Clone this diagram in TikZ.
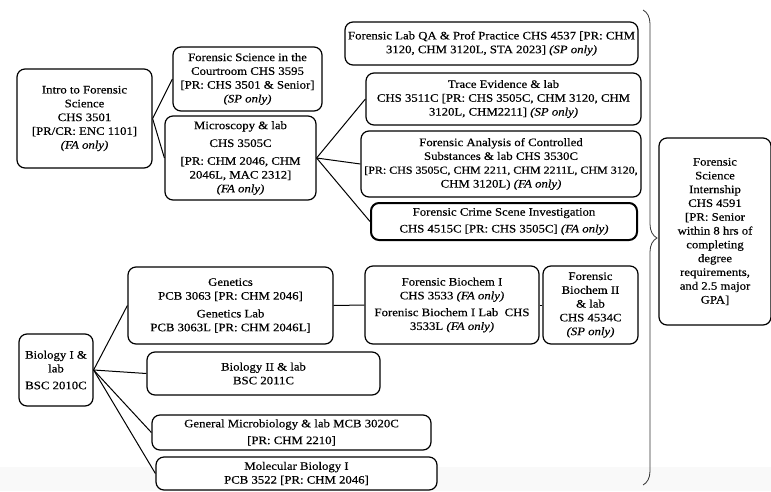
\documentclass[tikz,border=0pt]{standalone}
\usepackage{fontspec}
\setmainfont{Liberation Serif}[FakeStretch=1.12, FakeBold=0.4]
\usetikzlibrary{decorations.pathreplacing}
\tikzset{
  box/.style={draw=black, fill=white, rounded corners=8pt, line width=1.2pt, align=center,
    inner sep=1pt, font=\fontsize{11.4}{13.8}\selectfont},
  conn/.style={draw=black, line width=1pt},
}
\begin{document}
\begin{tikzpicture}[x=1pt,y=-1pt]
\useasboundingbox (0,0) rectangle (771,491);
\fill[gray!5] (0,467) rectangle (771,491);

\node[box, minimum width=135, minimum height=99] (intro) at (84.5,118.5)
  {Intro to Forensic\\Science\\CHS 3501\\{[PR/CR: ENC 1101]}\\\textit{(FA only)}};
\node[box, minimum width=149, minimum height=64] (court) at (247.5,79)
  {Forensic Science in the\\Courtroom CHS 3595\\{[PR: CHS 3501 \& Senior]}\\\textit{(SP only)}};
\node[box, minimum width=151, minimum height=84] (micro) at (240.5,158)
  {Microscopy \& lab\\[4pt]CHS 3505C\\[4pt]{[PR: CHM 2046, CHM}\\2046L, MAC 2312]\\\textit{(FA only)}};
\node[box, minimum width=293, minimum height=43] (qa) at (491.5,43.5)
  {Forensic Lab QA \& Prof Practice CHS 4537 [PR: CHM\\3120, CHM 3120L, STA 2023] \textit{(SP only)}};
\node[box, minimum width=275, minimum height=52] (trace) at (503.5,99)
  {Trace Evidence \& lab\\CHS 3511C [PR: CHS 3505C, CHM 3120, CHM\\3120L, CHM2211] \textit{(SP only)}};
\node[box, minimum width=280, minimum height=66] (ctrl) at (501,164)
  {Forensic Analysis of Controlled\\Substances \& lab CHS 3530C\\{\fontsize{10.7}{13.8}\selectfont[PR: CHS 3505C, CHM 2211, CHM 2211L, CHM 3120,}\\CHM 3120L) \textit{(FA only)}};
\node[box, line width=2pt, minimum width=266, minimum height=37] (crime) at (504,221.5)
  {Forensic Crime Scene Investigation\\[3pt]CHS 4515C [PR: CHS 3505C] \textit{(FA only)}};
\node[box, minimum width=112, minimum height=187] (intern) at (715,231.5)
  {Forensic\\Science\\Internship\\CHS 4591\\{[PR: Senior}\\within 8 hrs of\\completing\\degree\\requirements,\\and 2.5 major\\GPA]};

\node[box, minimum width=74, minimum height=72] (bio1) at (56,370)
  {Biology I \&\\lab\\[3pt]BSC 2010C};
\node[box, minimum width=205, minimum height=77] (gen) at (230.5,305.5)
  {Genetics\\PCB 3063 [PR: CHM 2046]\\[4pt]Genetics Lab\\PCB 3063L [PR: CHM 2046L]};
\node[box, minimum width=233, minimum height=43] (bio2) at (263.5,373.5)
  {Biology II \& lab\\BSC 2011C};
\node[box, minimum width=174, minimum height=78] (bc1) at (452,305)
  {Forensic Biochem I\\CHS 3533 \textit{(FA only)}\\[3pt]Forenisc Biochem I Lab~~CHS\\3533L \textit{(FA only)}};
\node[box, minimum width=95, minimum height=78] (bc2) at (590.5,305)
  {Forensic\\Biochem II\\\& lab\\CHS 4534C\\\textit{(SP only)}};
\node[box, minimum width=279, minimum height=35] (mcb) at (291.5,432.5)
  {General Microbiology \& lab MCB 3020C\\[3pt]{[PR: CHM 2210]}};
\node[box, minimum width=281, minimum height=33] (mol) at (296.5,473.5)
  {Molecular Biology I\\PCB 3522 {[PR: CHM 2046]}};

\draw[conn] (intro.east) -- (court.west);
\draw[conn] (intro.east) -- (micro.west);
\draw[conn] (micro.east) -- (trace.west);
\draw[conn] (micro.east) -- (ctrl.west);
\draw[conn] (micro.east) -- (crime.west);
\draw[conn] (bio1.east) -- (gen.west);
\draw[conn] (bio1.east) -- (bio2.west);
\draw[conn] (bio1.east) -- (mcb.west);
\draw[conn] (bio1.east) -- (mol.west);
\draw[conn] (gen.east) -- (bc1.west);
\draw[conn] (bc1.east) -- (bc2.west);

\coordinate (btop) at (643,10);
\coordinate (bbot) at (643,485);
\draw[draw=black!80, line width=0.8pt, decorate, decoration={brace, amplitude=14pt, aspect=0.48}] (btop) -- (bbot);
\end{tikzpicture}
\end{document}
